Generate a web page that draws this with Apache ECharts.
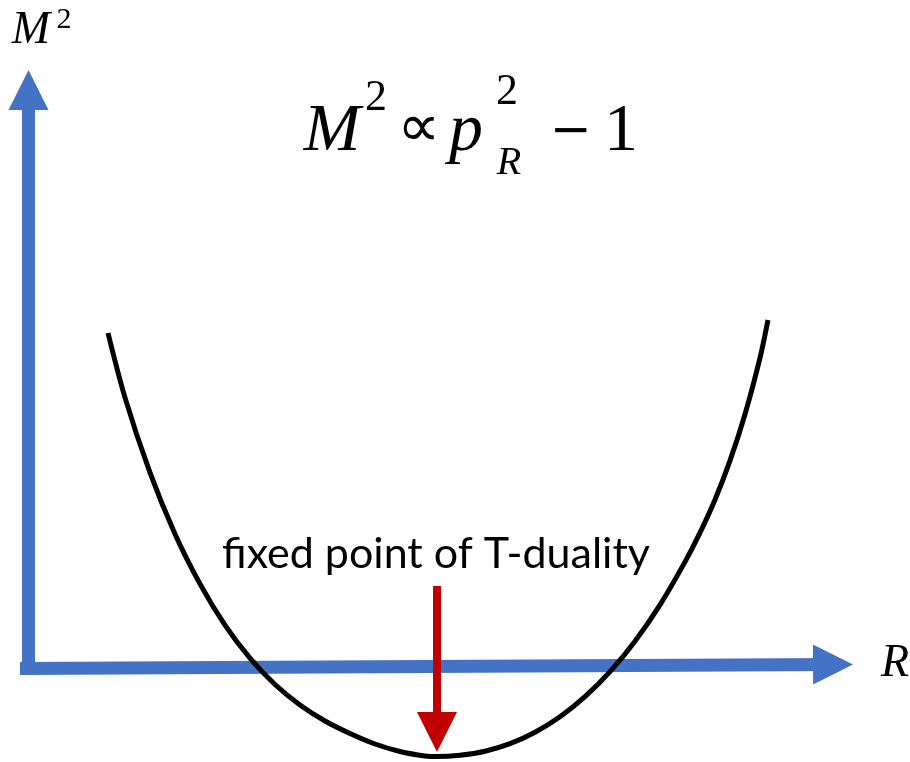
<!DOCTYPE html>
<html>
<head>
<meta charset="utf-8">
<script src="https://cdn.jsdelivr.net/npm/echarts@6/dist/echarts.min.js"></script>
<style>
  html, body { margin: 0; padding: 0; background: #fff; }
  #main { width: 910px; height: 762px; }
</style>
</head>
<body>
<div id="main"></div>
<script>
// curve M^2 against R (origin = where the two axes meet)
var curveR  = [0.795, 0.965, 1.215, 1.465, 1.715, 1.965, 2.215, 2.465, 2.715, 2.965, 3.215, 3.465, 3.715, 3.965, 4.085,
               4.315, 4.565, 4.815, 5.065, 5.315, 5.565, 5.815, 6.065, 6.315, 6.565, 6.715, 6.865, 7.015, 7.165, 7.315, 7.395];
var curveM2 = [3.35, 2.704, 1.954, 1.341, 0.841, 0.428, 0.098, -0.165, -0.37, -0.53, -0.655, -0.76, -0.835, -0.88, -0.886,
               -0.872, -0.832, -0.757, -0.642, -0.487, -0.287, -0.037, 0.268, 0.631, 1.061, 1.353, 1.683, 2.073, 2.538, 3.101, 3.48];

// axis arrows and the marker arrow (start, end)
var rAxisLine = [[-0.085, -0.005], [8.045, 0.035]];
var m2AxisLine = [[0, -0.07], [0, 5.78]];
var fixedPointArrow = [[4.085, 0.82], [4.085, -0.64]];

var fixedLabel = 'fixed point of T-duality';

var chart = echarts.init(document.getElementById('main'));

var curveData = [];
for (var i = 0; i < curveR.length; i++) {
  curveData.push([curveR[i], curveM2[i]]);
}

var serif = '"Liberation Serif", "DejaVu Serif", serif';
var symFont = '"DejaVu Sans", sans-serif';

function txt(s, x, y, size, opt) {
  opt = opt || {};
  return {
    type: 'text',
    x: x,
    y: y,
    z: 100,
    style: {
      text: s,
      fontFamily: opt.family || serif,
      fontStyle: opt.italic ? 'italic' : 'normal',
      fontSize: size,
      fill: '#000',
      align: 'center',
      verticalAlign: 'middle'
    }
  };
}

var option = {
  animation: false,
  backgroundColor: '#fff',
  grid: { left: 0, right: 0, top: 0, bottom: 0 },
  xAxis: { type: 'value', min: -0.285, max: 8.815, show: false },
  yAxis: { type: 'value', min: -0.94, max: 6.68, show: false },
  series: [
    {
      type: 'lines',
      coordinateSystem: 'cartesian2d',
      z: 1,
      symbol: ['none', 'triangle'],
      symbolSize: 40,
      lineStyle: { color: '#4472C4', width: 13, opacity: 1, cap: 'butt' },
      itemStyle: { color: '#4472C4' },
      data: [{ coords: rAxisLine }, { coords: m2AxisLine }]
    },
    {
      type: 'line',
      z: 2,
      data: curveData,
      smooth: 0.3,
      showSymbol: false,
      lineStyle: { color: '#000', width: 5 }
    },
    {
      type: 'lines',
      coordinateSystem: 'cartesian2d',
      z: 3,
      symbol: ['none', 'triangle'],
      symbolSize: 40,
      lineStyle: { color: '#C00000', width: 8, opacity: 1, cap: 'butt' },
      itemStyle: { color: '#C00000' },
      data: [{ coords: fixedPointArrow }]
    }
  ],
  graphic: [
    // axis labels
    txt('M', 31, 31, 46, { italic: true }),
    txt('2', 64, 20, 30),
    txt('R', 895, 664, 46, { italic: true }),
    // formula  M^2 ∝ p_R^2 − 1
    txt('M', 332, 132, 68, { italic: true }),
    txt('2', 376, 98, 44),
    txt('\u221D', 419, 130, 60, { family: symFont }),
    txt('p', 466, 132, 68, { italic: true }),
    txt('2', 507, 92, 44),
    txt('R', 509, 163, 40, { italic: true }),
    txt('\u2212', 571, 133, 50, { family: symFont }),
    txt('1', 621, 132, 68),
    // marker label
    txt(fixedLabel, 436, 554, 43, { family: 'Lato, "Open Sans", sans-serif' })
  ]
};

chart.setOption(option);
</script>
</body>
</html>
